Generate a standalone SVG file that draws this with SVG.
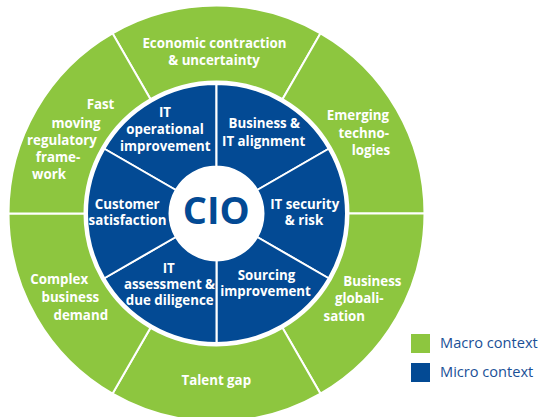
<svg xmlns="http://www.w3.org/2000/svg" width="542" height="417" viewBox="0 0 542 417">
<style>
.macro{fill:#8dc63f;stroke:#fff;stroke-width:2}
.micro{fill:#034a94;stroke:#fff;stroke-width:2}
.t{font-family:"Open Sans","Liberation Sans",sans-serif;font-weight:700;font-size:13.3px;fill:#fff}
.m{text-anchor:middle}
.e{text-anchor:end}
.lg{font-family:"Open Sans","Liberation Sans",sans-serif;font-size:14.6px;fill:#1a5097}
</style>
<rect width="542" height="417" fill="#fff"/>
<g id="macro-economic">
<path class="macro" d="M320.5 33.367A208 208 0 0 0 112.5 33.367L150.5 99.185A132 132 0 0 1 282.5 99.185Z"/>
<text class="t m" x="214.5" y="47.5">Economic contraction</text>
<text class="t m" x="214" y="64.5">&amp; uncertainty</text>
</g>
<g id="macro-emerging">
<path class="macro" d="M424.5 213.5A208 208 0 0 0 320.5 33.367L282.5 99.185A132 132 0 0 1 348.5 213.5Z"/>
<text class="t e" x="389" y="120">Emerging</text>
<text class="t e" x="389" y="137.5">techno-</text>
<text class="t e" x="390" y="154.5">logies</text>
</g>
<g id="macro-globalisation">
<path class="macro" d="M320.5 393.633A208 208 0 0 0 424.5 213.5L348.5 213.5A132 132 0 0 1 282.5 327.815Z"/>
<text class="t m" x="372.3" y="285.5">Business</text>
<text class="t m" x="359.3" y="303">globali-</text>
<text class="t m" x="344.3" y="320.5">sation</text>
</g>
<g id="macro-talent">
<path class="macro" d="M112.5 393.633A208 208 0 0 0 320.5 393.633L282.5 327.815A132 132 0 0 1 150.5 327.815Z"/>
<text class="t m" x="216.3" y="385">Talent gap</text>
</g>
<g id="macro-complex">
<path class="macro" d="M8.5 213.5A208 208 0 0 0 112.5 393.633L150.5 327.815A132 132 0 0 1 84.5 213.5Z"/>
<text class="t m" x="59.2" y="284">Complex</text>
<text class="t m" x="70.3" y="302">business</text>
<text class="t m" x="80.8" y="319.7">demand</text>
</g>
<g id="macro-regulatory">
<path class="macro" d="M112.5 33.367A208 208 0 0 0 8.5 213.5L84.5 213.5A132 132 0 0 1 150.5 99.185Z"/>
<text class="t m" x="100.5" y="109">Fast</text>
<text class="t m" x="76" y="127.5">moving</text>
<text class="t m" x="62" y="145">regulatory</text>
<text class="t m" x="58" y="162">frame-</text>
<text class="t m" x="49" y="179">work</text>
</g>
<g id="micro-operational">
<path class="micro" d="M216.5 84A129.5 129.5 0 0 0 104.35 148.75L175.797 190A47 47 0 0 1 216.5 166.5Z"/>
<text class="t m" x="165" y="117">IT</text>
<text class="t m" x="165" y="134">operational</text>
<text class="t m" x="165.3" y="150.7">improvement</text>
</g>
<g id="micro-alignment">
<path class="micro" d="M328.65 148.75A129.5 129.5 0 0 0 216.5 84L216.5 166.5A47 47 0 0 1 257.203 190Z"/>
<text class="t m" x="264.3" y="128.3">Business &amp;</text>
<text class="t m" x="263.7" y="145.7">IT alignment</text>
</g>
<g id="micro-security">
<path class="micro" d="M328.65 278.25A129.5 129.5 0 0 0 328.65 148.75L257.203 190A47 47 0 0 1 257.203 237Z"/>
<text class="t m" x="304.7" y="208.5">IT security</text>
<text class="t m" x="304" y="225.3">&amp; risk</text>
</g>
<g id="micro-sourcing">
<path class="micro" d="M216.5 343A129.5 129.5 0 0 0 328.65 278.25L257.203 237A47 47 0 0 1 216.5 260.5Z"/>
<text class="t m" x="266.5" y="279.7">Sourcing</text>
<text class="t m" x="265.5" y="296.3">improvement</text>
</g>
<g id="micro-assessment">
<path class="micro" d="M104.35 278.25A129.5 129.5 0 0 0 216.5 343L216.5 260.5A47 47 0 0 1 175.797 237Z"/>
<text class="t m" x="168.7" y="272.5">IT</text>
<text class="t m" x="169.5" y="289">assessment &amp;</text>
<text class="t m" x="169.7" y="305.3">due diligence</text>
</g>
<g id="micro-customer">
<path class="micro" d="M104.35 148.75A129.5 129.5 0 0 0 104.35 278.25L175.797 237A47 47 0 0 1 175.797 190Z"/>
<text class="t m" x="127.2" y="209">Customer</text>
<text class="t m" x="127.5" y="225.3">satisfaction</text>
</g>
<g id="cio">
<circle cx="216.5" cy="213.5" r="47" fill="#fff"/>
<text x="216.3" y="224" text-anchor="middle" font-family="'Open Sans','Liberation Sans',sans-serif" font-weight="700" font-size="38" fill="#034a94">CIO</text>
</g>
<g id="legend">
<rect x="411" y="334" width="19" height="19" fill="#8dc63f"/>
<text class="lg" x="440" y="348.3">Macro context</text>
<rect x="411" y="363" width="19" height="19" fill="#034a94"/>
<text class="lg" x="440" y="376.7">Micro context</text>
</g>
<g id="connectors"/>
</svg>
